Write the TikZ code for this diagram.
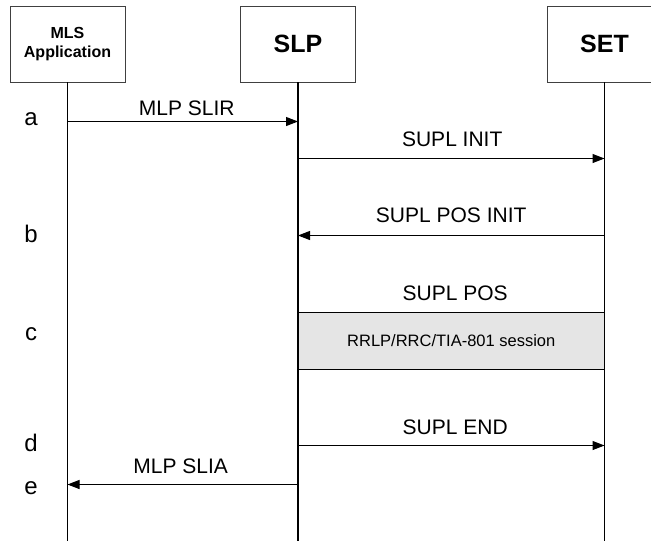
\documentclass[tikz,border=0pt]{standalone}
\usepackage{fontspec}
\setmainfont{Liberation Sans}
\usetikzlibrary{arrows.meta}

\begin{document}
\begin{tikzpicture}[
  x=1pt, y=-1pt,
  entity/.style={draw=black!75, line width=0.8pt, fill=white, minimum width=115pt,
    minimum height=76pt, inner sep=0pt, align=center},
  lifeline/.style={line width=1.1pt},
  msg/.style={line width=1pt, -{Triangle[length=12pt,width=9pt]}},
  lbl/.style={font=\fontsize{21}{25}\selectfont, anchor=base, inner sep=0pt},
  phase/.style={font=\fontsize{24}{28}\selectfont, anchor=base, inner sep=0pt},
  session/.style={draw, line width=0.9pt, fill=gray!20, minimum width=306.5pt,
    minimum height=57pt, inner sep=0pt, font=\fontsize{16.5}{20}\selectfont},
]

\useasboundingbox (0,0) rectangle (651,542);
\clip (0,0) rectangle (651,542);

\node [entity, font=\bfseries\fontsize{16}{19}\selectfont] (mls) at (67.5,44) {MLS\\Application};
\node [entity, font=\bfseries\fontsize{25}{30}\selectfont] (slp) at (298,44) {SLP};
\node [entity, font=\bfseries\fontsize{25}{30}\selectfont] (set) at (604.5,44) {SET};

\node [session] (sess) at (451.25,340.5) {RRLP/RRC/TIA-801 session};
\node [lbl, xshift=4pt] (lpos) at ([yshift=11pt]sess.north) {SUPL POS};

\coordinate (bot) at (0,541);
\draw [lifeline] (mls.south) -- (mls.south |- bot);
\draw [lifeline] (slp.south) -- (slp.south |- bot);
\draw [lifeline] (set.south) -- (set.south |- bot);

\coordinate (ya) at (0,121.5);
\coordinate (yinit) at (0,158.5);
\coordinate (yposinit) at (0,235.5);
\coordinate (yend) at (0,445.5);
\coordinate (yslia) at (0,484.5);

\draw [msg] (mls |- ya) -- (slp |- ya)
  node [lbl, midway, yshift=6.5pt, xshift=4pt] {MLP SLIR};
\draw [msg] (slp |- yinit) -- (set |- yinit)
  node [lbl, midway, yshift=12.5pt, xshift=1pt] {SUPL INIT};
\draw [msg] (set |- yposinit) -- (slp |- yposinit)
  node [lbl, midway, yshift=13.5pt] {SUPL POS INIT};
\draw [msg] (slp |- yend) -- (set |- yend)
  node [lbl, midway, yshift=11.5pt, xshift=4pt] {SUPL END};
\draw [msg] (slp |- yslia) -- (mls |- yslia)
  node [lbl, midway, yshift=11pt, xshift=-2pt] {MLP SLIA};

\node [phase] (pa) at (31,125) {a};
\node [phase] (pb) at (31,242) {b};
\node [phase] (pc) at (31,340) {c};
\node [phase] (pd) at (31,451) {d};
\node [phase] (pe) at (31,494) {e};

\end{tikzpicture}
\end{document}
